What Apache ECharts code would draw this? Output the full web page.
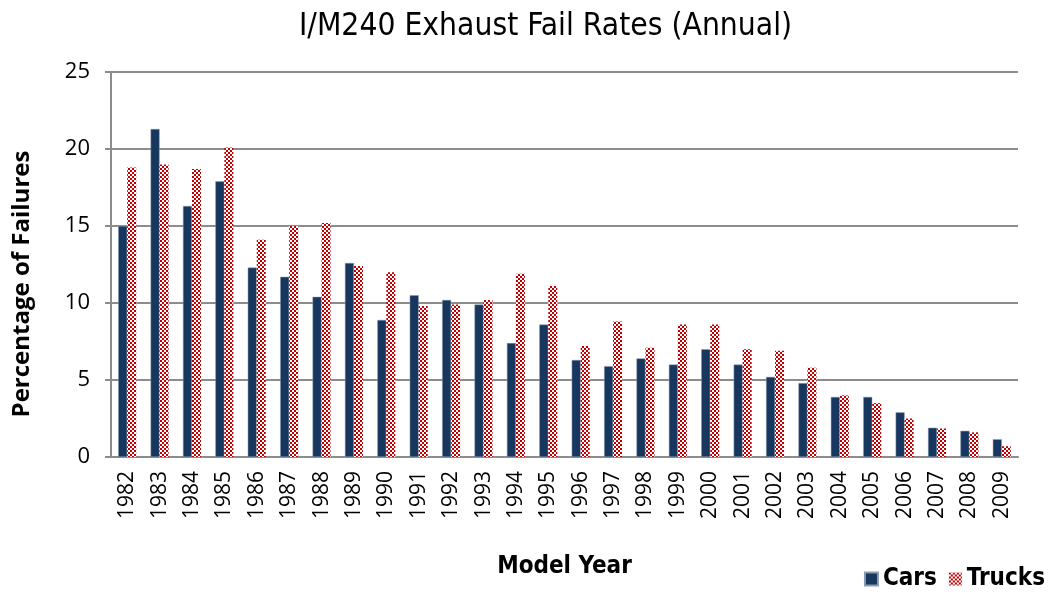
<!DOCTYPE html>
<html>
<head>
<meta charset="utf-8">
<script src="https://cdn.jsdelivr.net/npm/echarts@6/dist/echarts.min.js"></script>
<style>
  html, body { margin: 0; padding: 0; background: #fff; }
  #main { width: 1052px; height: 598px; }
</style>
</head>
<body>
<div id="main"></div>
<script>
// model years
var years = ['1982','1983','1984','1985','1986','1987','1988','1989','1990','1991',
  '1992','1993','1994','1995','1996','1997','1998','1999','2000','2001',
  '2002','2003','2004','2005','2006','2007','2008','2009'];
// fail rates (%)
var cars = [15.0, 21.3, 16.3, 17.9, 12.3, 11.7, 10.4, 12.6, 8.9, 10.5,
  10.2, 9.9, 7.4, 8.6, 6.3, 5.9, 6.4, 6.0, 7.0, 6.0,
  5.2, 4.8, 3.9, 3.9, 2.9, 1.9, 1.7, 1.15];
var trucks = [18.8, 19.0, 18.7, 20.1, 14.1, 15.0, 15.2, 12.4, 12.0, 9.8,
  9.9, 10.2, 11.9, 11.1, 7.2, 8.8, 7.1, 8.6, 8.6, 7.0,
  6.9, 5.8, 4.0, 3.5, 2.5, 1.85, 1.6, 0.7];
var yTicks = [0, 5, 10, 15, 20, 25];

// checkerboard fill for trucks
var pat = document.createElement('canvas');
pat.width = 4; pat.height = 4;
var ctx = pat.getContext('2d');
ctx.fillStyle = '#ffffff';
ctx.fillRect(0, 0, 4, 4);
ctx.fillStyle = '#c00000';
ctx.fillRect(0, 0, 2, 2);
ctx.fillRect(2, 2, 2, 2);
var truckFill = { image: pat, repeat: 'repeat' };

var axisGray = '#8c8c8c';

var option = {
  animation: false,
  title: {
    text: 'I/M240 Exhaust Fail Rates (Annual)',
    left: 294,
    top: 6,
    textStyle: {
      fontFamily: 'DejaVu Sans Condensed',
      fontSize: 31.5,
      fontWeight: 'normal',
      color: '#000'
    }
  },
  // y axis title, placed a little below the grid middle as in the original
  graphic: [{
    type: 'text',
    x: 22,
    y: 284,
    rotation: Math.PI / 2,
    style: {
      text: 'Percentage of Failures',
      fontFamily: 'Open Sans',
      fontWeight: 'bold',
      fontSize: 24,
      fill: '#000',
      align: 'center',
      verticalAlign: 'middle'
    }
  }],
  legend: {
    data: ['Cars', 'Trucks'],
    right: 2,
    bottom: 2,
    itemWidth: 13,
    itemHeight: 13,
    itemGap: 12,
    icon: 'rect',
    textStyle: {
      fontFamily: 'DejaVu Sans Condensed',
      fontWeight: 'bold',
      fontSize: 24,
      color: '#000',
      padding: [0, 0, 0, 0]
    }
  },
  grid: {
    left: 111,
    right: 34,
    top: 72,
    bottom: 141
  },
  xAxis: {
    type: 'category',
    data: years,
    name: 'Model Year',
    nameLocation: 'middle',
    nameGap: 98,
    nameTextStyle: {
      fontFamily: 'DejaVu Sans Condensed',
      fontWeight: 'bold',
      fontSize: 24,
      color: '#000'
    },
    axisLine: { lineStyle: { color: axisGray, width: 2 } },
    axisTick: { alignWithLabel: false, length: 6, lineStyle: { color: axisGray, width: 2 } },
    axisLabel: {
      rotate: 90,
      interval: 0,
      margin: 14,
      fontFamily: 'Open Sans',
      fontSize: 21,
      color: '#000'
    }
  },
  yAxis: {
    type: 'value',
    min: yTicks[0],
    max: yTicks[yTicks.length - 1],
    interval: 5,
    axisLine: { show: true, lineStyle: { color: axisGray, width: 2 } },
    axisTick: { show: true, length: 6, lineStyle: { color: axisGray, width: 2 } },
    splitLine: { lineStyle: { color: axisGray, width: 2 } },
    axisLabel: {
      margin: 21,
      fontFamily: 'Open Sans',
      fontSize: 22,
      color: '#000'
    }
  },
  series: [
    {
      name: 'Cars',
      type: 'bar',
      data: cars,
      barWidth: 9,
      barGap: '0%',
      itemStyle: { color: '#17375e', borderColor: '#8a9ab0', borderWidth: 0.5 }
    },
    {
      name: 'Trucks',
      type: 'bar',
      data: trucks,
      barWidth: 9,
      barGap: '0%',
      itemStyle: { color: truckFill }
    }
  ]
};

var chart = echarts.init(document.getElementById('main'));
chart.setOption(option);
</script>
</body>
</html>
